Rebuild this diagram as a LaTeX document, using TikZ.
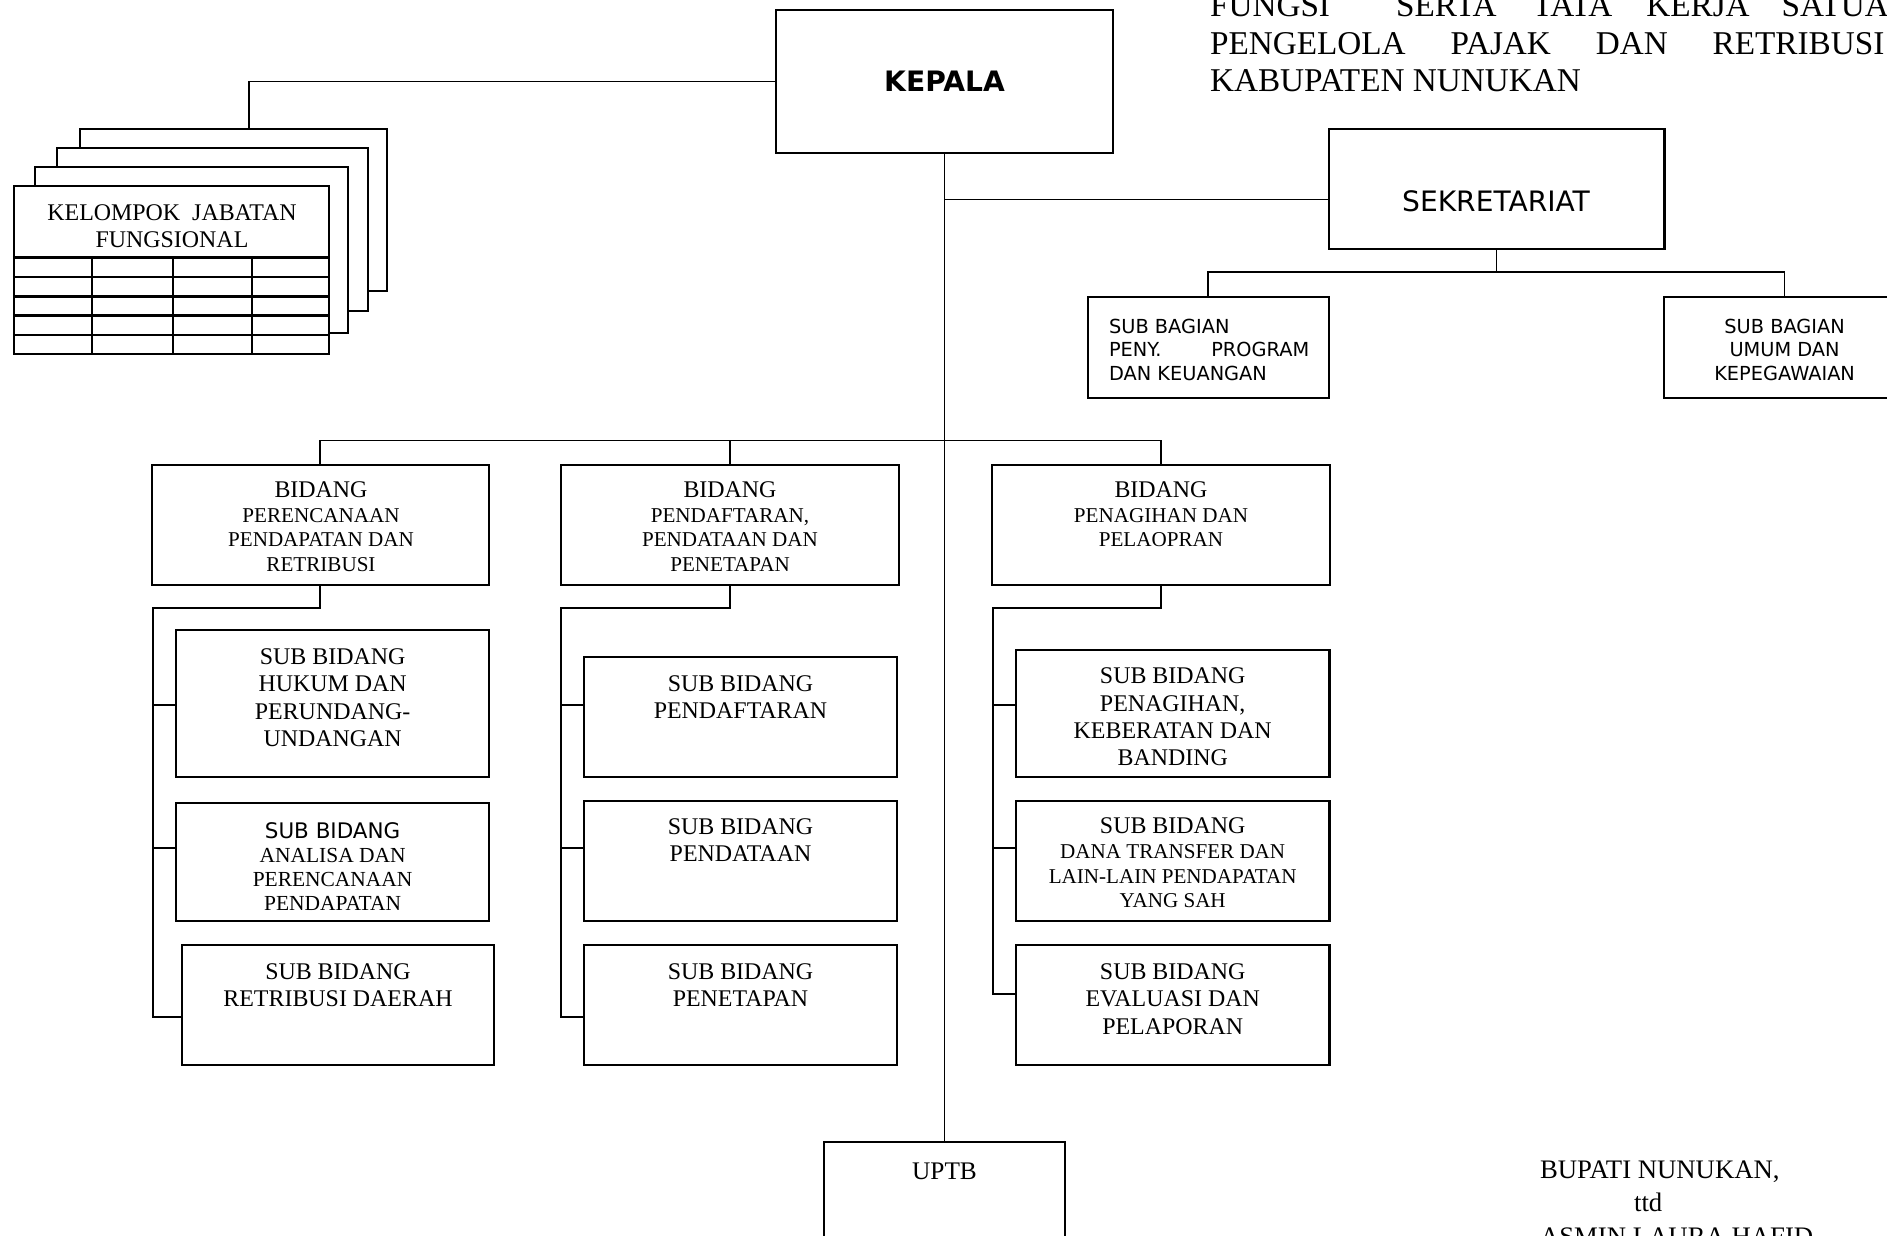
\documentclass[tikz,border=0pt]{standalone}
\usepackage{fontspec}
\setmainfont{Liberation Serif}
\newfontfamily\dvsans{DejaVu Sans}
\usepackage{tikz}

\begin{document}
\begin{tikzpicture}[x=0.01cm, y=-0.01cm, line width=0.6pt,
		unit/.style={draw, fill=white, inner sep=0pt},
		txt/.style={anchor=north, align=center, inner sep=0pt},
		sbtxt/.style={txt, font=\fontsize{6.8}{7.77}\selectfont},
		bagtxt/.style={txt, font=\dvsans\fontsize{5.5}{6.7}\selectfont},
		link/.style={line width=0.5pt}]
		\path[use as bounding box, fill=white] (0,0) rectangle (1887,1235);
		\clip (0,0) rectangle (1887,1235);
		\node[txt, anchor=north west, align=left, font=\fontsize{9.45}{10.67}\selectfont] (judul) at (1209,-6.2) {FUNGSI\hspace{0.66cm}SERTA\hspace{0.36cm}TATA\hspace{0.34cm}KERJA\hspace{0.32cm}SATUAN\\\makebox[6.74cm][s]{PENGELOLA\hfill PAJAK\hfill DAN\hfill RETRIBUSI}\\KABUPATEN NUNUKAN};
		\node[unit, minimum width=3.36cm, minimum height=1.43cm] (kepala) at (944.5,81.5) {};
		\node[txt, font=\dvsans\bfseries\fontsize{8}{9.6}\selectfont] (kepalaT) at (944.5,69.6) {KEPALA};
		\node[unit, minimum width=3.357cm, minimum height=1.2cm] (sekre) at (1496.5,189) {};
		\node[txt, font=\dvsans\fontsize{8}{9.6}\selectfont] (sekreT) at (1496,189.6) {SEKRETARIAT};
		\node[unit, minimum width=2.406cm, minimum height=1.013cm] (bagA) at (1208.3,347.7) {};
		\node[bagtxt, anchor=north west, align=left] (bagAT) at (1108,318) {SUB BAGIAN\\\makebox[2cm][s]{PENY.\hfill PROGRAM}\\DAN KEUANGAN};
		\node[unit, minimum width=2.406cm, minimum height=1.013cm] (bagB) at (1784.6,347.7) {};
		\node[bagtxt] (bagBT) at (1784.6,318) {SUB BAGIAN\\UMUM DAN\\KEPEGAWAIAN};
		\begin{scope}
			\node[unit, minimum width=3.07cm, minimum height=1.62cm] (kjf4) at (233.5,210) {};
			\node[unit, minimum width=3.11cm, minimum height=1.63cm] (kjf3) at (212.5,229.5) {};
			\node[unit, minimum width=3.13cm, minimum height=1.66cm] (kjf2) at (191.5,250) {};
			\node[unit, minimum width=3.15cm, minimum height=1.68cm] (kjf1) at (171.5,270) {};
			\foreach \y in {257.5,277,296.5,315.5,335}
				\draw (kjf1.west |- 0,\y) -- (kjf1.east |- 0,\y);
			\foreach \x in {92,173,252}
				\draw (\x,257.5) -- (\x,354);
			\node[txt, font=\fontsize{6.8}{7.6}\selectfont] (kjfT) at (172,204) {KELOMPOK~ JABATAN\\FUNGSIONAL};
		\end{scope}
		\node[unit, minimum width=3.37cm, minimum height=1.2cm] (bidA) at (320.2,525) {};
		\node[txt, font=\fontsize{6}{6.95}\selectfont] (bidAT) at (321,481) {{\fontsize{6.8}{6.95}\selectfont BIDANG}\\PERENCANAAN\\PENDAPATAN DAN\\RETRIBUSI};
		\node[unit, minimum width=3.37cm, minimum height=1.2cm] (bidB) at (730,525) {};
		\node[txt, font=\fontsize{6}{6.95}\selectfont] (bidBT) at (730,481) {{\fontsize{6.8}{6.95}\selectfont BIDANG}\\PENDAFTARAN,\\PENDATAAN DAN\\PENETAPAN};
		\node[unit, minimum width=3.37cm, minimum height=1.2cm] (bidC) at (1161,525) {};
		\node[txt, font=\fontsize{6}{6.95}\selectfont] (bidCT) at (1161,481) {{\fontsize{6.8}{6.95}\selectfont BIDANG}\\PENAGIHAN DAN\\PELAOPRAN};
		\node[unit, minimum width=3.133cm, minimum height=1.467cm] (sbA1) at (332.6,703.3) {};
		\node[sbtxt] (sbA1T) at (332.6,647.6) {SUB BIDANG\\HUKUM DAN\\PERUNDANG-\\UNDANGAN};
		\node[unit, minimum width=3.133cm, minimum height=1.177cm] (sbA2) at (332.6,862.2) {};
		\node[txt, font=\fontsize{6.1}{6.83}\selectfont] (sbA2T) at (332.6,821) {{\dvsans SUB BIDANG}\\ANALISA DAN\\PERENCANAAN\\PENDAPATAN};
		\node[unit, minimum width=3.126cm, minimum height=1.2cm] (sbA3) at (338,1005) {};
		\node[sbtxt] (sbA3T) at (338,962.6) {SUB BIDANG\\RETRIBUSI DAERAH};
		\node[unit, minimum width=3.124cm, minimum height=1.2cm] (sbB1) at (740.5,716.7) {};
		\node[sbtxt] (sbB1T) at (740.5,674.2) {SUB BIDANG\\PENDAFTARAN};
		\node[unit, minimum width=3.124cm, minimum height=1.203cm] (sbB2) at (740.5,860.8) {};
		\node[sbtxt] (sbB2T) at (740.5,817.6) {SUB BIDANG\\PENDATAAN};
		\node[unit, minimum width=3.124cm, minimum height=1.2cm] (sbB3) at (740.5,1005) {};
		\node[sbtxt] (sbB3T) at (740.5,962.6) {SUB BIDANG\\PENETAPAN};
		\node[unit, minimum width=3.133cm, minimum height=1.267cm] (sbC1) at (1172.7,713.3) {};
		\node[sbtxt] (sbC1T) at (1172.7,667) {SUB BIDANG\\PENAGIHAN,\\KEBERATAN DAN\\BANDING};
		\node[unit, minimum width=3.133cm, minimum height=1.203cm] (sbC2) at (1172.7,860.8) {};
		\node[txt, font=\fontsize{6}{7}\selectfont] (sbC2T) at (1172.7,817) {{\fontsize{6.8}{7}\selectfont SUB BIDANG}\\DANA TRANSFER DAN\\LAIN-LAIN PENDAPATAN\\YANG SAH};
		\node[unit, minimum width=3.133cm, minimum height=1.2cm] (sbC3) at (1172.7,1005) {};
		\node[sbtxt] (sbC3T) at (1172.7,962.6) {SUB BIDANG\\EVALUASI DAN\\PELAPORAN};
		\node[unit, minimum width=2.41cm, minimum height=1.4cm] (uptb) at (944.5,1212) {};
		\node[txt, font=\fontsize{7.2}{8.6}\selectfont] (uptbT) at (944.5,1161.5) {UPTB};
		\node[txt, anchor=north west, align=left, font=\fontsize{7.6}{9.5}\selectfont] (bupati) at (1539,1159.7) {BUPATI NUNUKAN,\\\hspace*{0.94cm}ttd\\ASMIN LAURA HAFID};
		\draw[link] (kepala.west) -| ([xshift=0.155cm]kjf4.north);
		\draw[link] (kepala.south) -- (uptb.north);
		\coordinate (sekJ) at (944.5,199.5);
		\draw[link] (sekJ) -- (sekJ -| sekre.west);
		\coordinate (bagHub) at (1496.5,272);
		\draw[link] (sekre.south) -- (bagHub);
		\draw[link] (bagA.north) |- (bagHub) -| (bagB.north);
		\coordinate (bidHub) at (944.5,440.4);
		\draw[link] (bidA.north) |- (bidHub) -| (bidC.north);
		\draw[link] (bidB.north) -- (bidB.north |- bidHub);
		\foreach \c/\x/\ylast in {A/152.7/1016.7, B/560.7/1016.7, C/992.7/994.3} {
			\coordinate (br\c) at (\x,608.3);
			\coordinate (t\c1) at (\x,705);
			\coordinate (t\c2) at (\x,848.3);
			\coordinate (t\c3) at (\x,\ylast);
			\draw[link] (bid\c.south) |- (br\c) -- (t\c3) -- (t\c3 -| sb\c3.west);
			\draw[link] (t\c1) -- (t\c1 -| sb\c1.west);
			\draw[link] (t\c2) -- (t\c2 -| sb\c2.west);
		}
	\end{tikzpicture}
\end{document}
